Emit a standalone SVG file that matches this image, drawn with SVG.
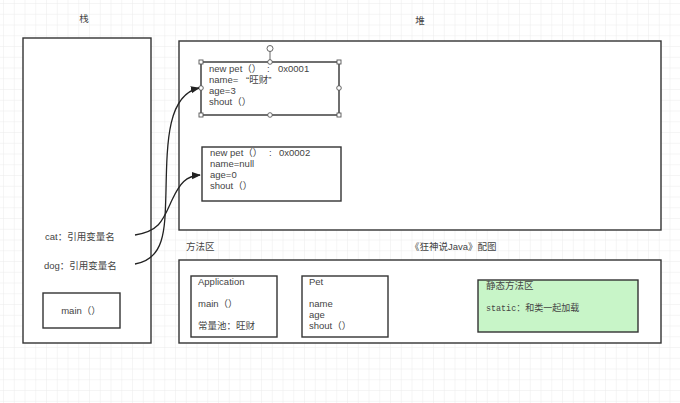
<svg xmlns="http://www.w3.org/2000/svg" width="680" height="403" viewBox="0 0 680 403">
<defs>
<pattern id="grid" x="4" y="4" width="10.75" height="10.75" patternUnits="userSpaceOnUse">
<path d="M10.75 0V10.75H0" fill="none" stroke="#ececec" stroke-width="1"/>
</pattern>
<marker id="arr" viewBox="0 0 10 10" refX="9" refY="5" markerWidth="9" markerHeight="9" orient="auto" markerUnits="userSpaceOnUse">
<path d="M0 1L10 5L0 9Z" fill="#222"/>
</marker>
<style>
.box{fill:#fff;stroke:#333;stroke-width:1.4}
.t{font-family:"Liberation Sans","Noto Sans CJK SC",sans-serif;font-size:9.5px;fill:#444}
.m{font-family:"Liberation Mono","Noto Sans CJK SC",monospace;font-size:8.4px;fill:#444}
.h{fill:#fff;stroke:#555;stroke-width:0.9}
.c{fill:none;stroke:#222;stroke-width:1.3}
</style>
</defs>
<rect width="680" height="403" fill="#fff"/>
<rect width="680" height="403" fill="url(#grid)"/>

<g id="stack">
<text class="t" x="84" y="22" text-anchor="middle">栈</text>
<rect class="box" x="23" y="38" width="128" height="305"/>
<text class="t" x="45" y="240">cat：引用变量名</text>
<text class="t" x="44" y="269">dog：引用变量名</text>
</g>
<g id="main">
<rect class="box" x="43" y="293" width="77" height="35"/>
<text class="t" x="81" y="314" text-anchor="middle">main（）</text>
</g>

<g id="heap">
<text class="t" x="420" y="24" text-anchor="middle">堆</text>
<rect class="box" x="179" y="41" width="482" height="189"/>
</g>

<g id="pet1">
<rect class="box" x="201" y="62" width="138" height="53"/>
<text class="t" x="209" y="72">new pet（）<tspan x="267">:</tspan><tspan x="278">0x0001</tspan></text>
<text class="t" x="209" y="83">name=<tspan x="246">“旺财”</tspan></text>
<text class="t" x="209" y="94">age=3</text>
<text class="t" x="209" y="105">shout（）</text>
<line x1="270" y1="51" x2="270" y2="62" stroke="#555" stroke-width="0.9"/>
<circle class="h" cx="270" cy="48.5" r="3"/>
<rect class="h" x="199" y="60" width="4" height="4"/>
<rect class="h" x="337" y="60" width="4" height="4"/>
<rect class="h" x="199" y="113" width="4" height="4"/>
<rect class="h" x="337" y="113" width="4" height="4"/>
<circle class="h" cx="270" cy="62" r="2.3"/>
<circle class="h" cx="270" cy="115" r="2.3"/>
<circle class="h" cx="339" cy="88" r="2.3"/>
<circle class="h" cx="201" cy="88" r="2.3"/>
</g>

<g id="pet2">
<rect class="box" x="202" y="147" width="139" height="54"/>
<text class="t" x="210" y="156">new pet（）<tspan x="269">:</tspan><tspan x="279">0x0002</tspan></text>
<text class="t" x="210" y="167">name=null</text>
<text class="t" x="210" y="178">age=0</text>
<text class="t" x="210" y="189">shout（）</text>
</g>

<g id="method-area">
<text class="t" x="186" y="250">方法区</text>
<text class="t" x="410" y="250">《狂神说Java》配图</text>
<rect class="box" x="179" y="260" width="482" height="83"/>
</g>
<g id="application">
<rect class="box" x="191" y="276" width="86" height="61"/>
<text class="t" x="198" y="285">Application</text>
<text class="t" x="198" y="307">main（）</text>
<text class="t" x="198" y="329">常量池：旺财</text>
</g>
<g id="pet-class">
<rect class="box" x="302" y="276" width="86" height="61"/>
<text class="t" x="309" y="285">Pet</text>
<text class="t" x="309" y="307">name</text>
<text class="t" x="309" y="318">age</text>
<text class="t" x="309" y="329">shout（）</text>
</g>
<g id="static-area">
<rect x="478" y="280" width="160" height="52" fill="#c8f5c8" stroke="#333" stroke-width="1.4"/>
<text class="t" x="486" y="289">静态方法区</text>
<text class="m" x="486" y="311">static<tspan class="t" style="font-size:9px">：和类一起加载</tspan></text>
</g>

<g id="connectors">
<path class="c" d="M135 264C165 259 165 230 166 190C167 140 168 95 199 88" marker-end="url(#arr)"/>
<path class="c" d="M135 235C160 231 163 220 172 200C180 183 186 176 200 175" marker-end="url(#arr)"/>
</g>
</svg>
